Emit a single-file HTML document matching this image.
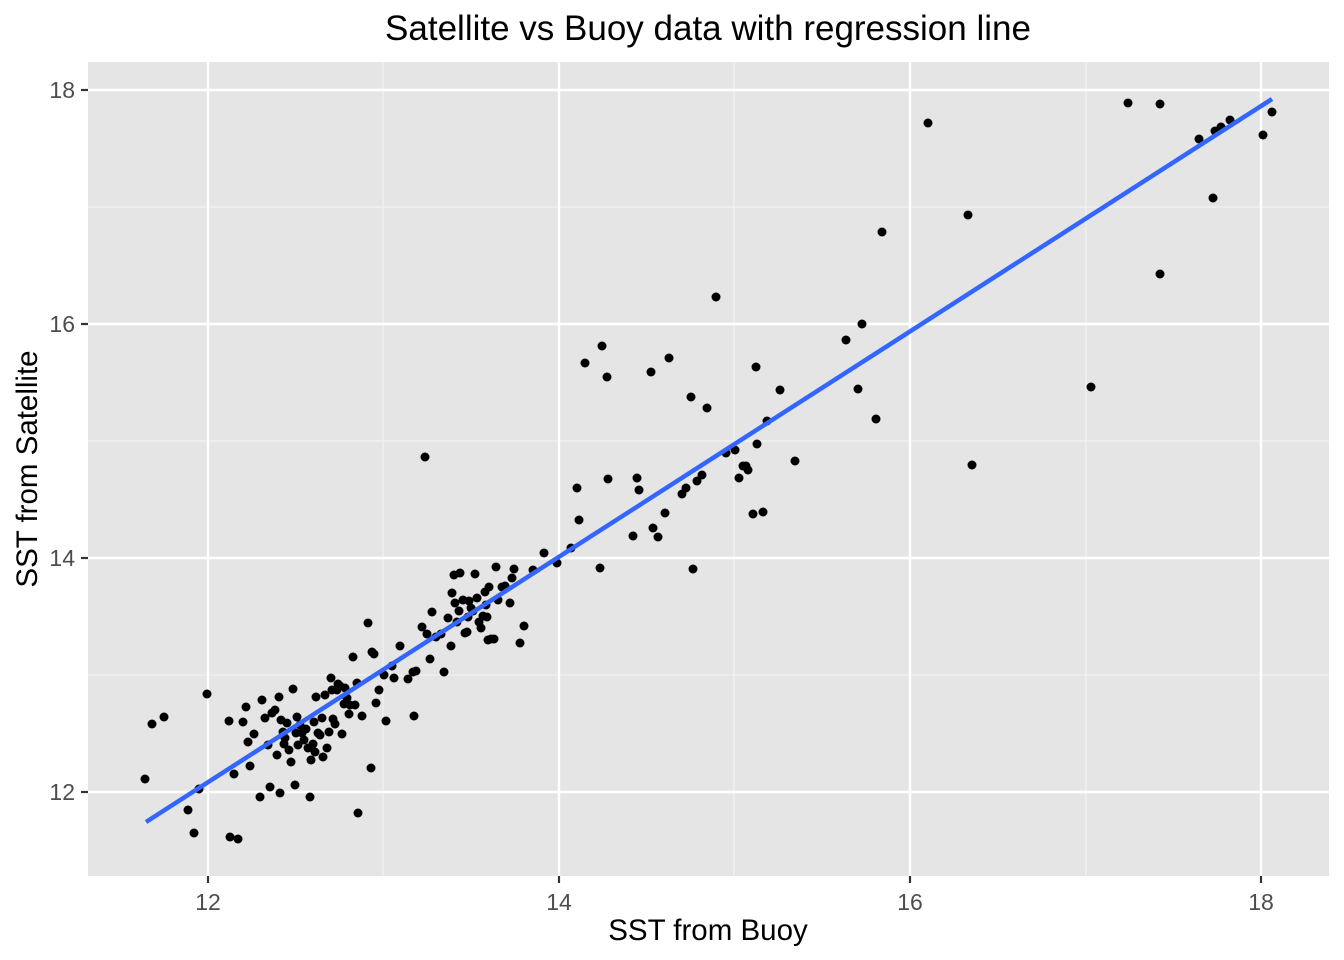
<!DOCTYPE html>
<html><head><meta charset="utf-8"><style>
html,body{margin:0;padding:0;background:#fff}
svg{display:block;font-family:"Liberation Sans",Arial,sans-serif}
</style></head><body>
<svg width="1344" height="960" viewBox="0 0 1344 960" xmlns="http://www.w3.org/2000/svg">
<rect x="88" y="62" width="1241" height="814" fill="#e5e5e5"/>
<g stroke="#f2f2f2" stroke-width="1.2">
<line x1="383" y1="62" x2="383" y2="876"/><line x1="734" y1="62" x2="734" y2="876"/><line x1="1086" y1="62" x2="1086" y2="876"/>
<line x1="88" y1="207" x2="1329" y2="207"/><line x1="88" y1="441" x2="1329" y2="441"/><line x1="88" y1="675" x2="1329" y2="675"/>
</g>
<g stroke="#fff" stroke-width="2.4">
<line x1="208" y1="62" x2="208" y2="876"/><line x1="559" y1="62" x2="559" y2="876"/><line x1="910" y1="62" x2="910" y2="876"/><line x1="1261" y1="62" x2="1261" y2="876"/>
<line x1="88" y1="90" x2="1329" y2="90"/><line x1="88" y1="324" x2="1329" y2="324"/><line x1="88" y1="558" x2="1329" y2="558"/><line x1="88" y1="792" x2="1329" y2="792"/>
</g>
<g stroke="#333" stroke-width="2.2">
<line x1="208" y1="876" x2="208" y2="883"/><line x1="559" y1="876" x2="559" y2="883"/><line x1="910" y1="876" x2="910" y2="883"/><line x1="1261" y1="876" x2="1261" y2="883"/>
<line x1="81" y1="90" x2="88" y2="90"/><line x1="81" y1="324" x2="88" y2="324"/><line x1="81" y1="558" x2="88" y2="558"/><line x1="81" y1="792" x2="88" y2="792"/>
</g>
<g fill="#4d4d4d" font-size="23" text-anchor="middle">
<text x="208" y="910">12</text><text x="559" y="910">14</text><text x="910" y="910">16</text><text x="1261" y="910">18</text>
</g>
<g fill="#4d4d4d" font-size="23" text-anchor="end">
<text x="75" y="98">18</text><text x="75" y="332">16</text><text x="75" y="566">14</text><text x="75" y="800">12</text>
</g>
<text x="708" y="940" font-size="29.5" text-anchor="middle" fill="#000">SST from Buoy</text>
<text transform="translate(37,469) rotate(-90)" font-size="29.5" text-anchor="middle" fill="#000">SST from Satellite</text>
<text x="708" y="40" font-size="35" text-anchor="middle" fill="#000">Satellite vs Buoy data with regression line</text>
<g fill="#000" id="pts"></g>
<line x1="146" y1="822" x2="1272" y2="99" stroke="#3366ff" stroke-width="4.5"/>
</svg>
<script>
var p=[[145,779],[152,724],[164,717],[188,810],[194,833],[199,789],[207,694],[229,721],[230,837],[238,839],[234,774],[243,722],[246,707],[248,742],[250,766],[254,734],[260,797],[262,700],[265,718],[268,745],[270,787],[272,713],[275,710],[277,755],[279,697],[280,793],[281,720],[283,732],[284,744],[285,738],[287,723],[289,750],[291,762],[293,689],[295,785],[296,733],[297,717],[298,745],[300,725],[302,733],[304,740],[306,729],[308,748],[310,797],[311,760],[313,744],[314,722],[315,752],[316,697],[318,733],[320,735],[322,718],[323,757],[325,695],[327,748],[329,732],[331,678],[332,690],[333,719],[335,724],[337,690],[338,684],[340,686],[342,734],[344,704],[345,688],[347,698],[349,714],[350,705],[353,657],[355,705],[357,683],[358,813],[362,716],[368,623],[371,768],[372,652],[374,654],[376,703],[379,690],[384,675],[386,721],[392,666],[394,678],[400,646],[408,679],[413,672],[414,716],[416,671],[422,627],[425,457],[427,634],[430,659],[432,612],[436,637],[441,634],[444,672],[448,618],[451,646],[452,593],[454,575],[455,603],[457,622],[459,611],[460,573],[463,600],[465,633],[467,632],[468,617],[469,601],[471,608],[473,611],[475,574],[477,598],[479,622],[481,628],[483,616],[485,592],[486,605],[487,617],[488,640],[489,587],[491,639],[494,639],[496,567],[498,600],[502,587],[505,586],[510,603],[512,578],[514,569],[520,643],[524,626],[533,570],[544,553],[557,563],[571,548],[577,488],[579,520],[585,363],[600,568],[602,346],[607,377],[608,479],[633,536],[637,478],[639,490],[651,372],[653,528],[658,537],[665,513],[669,358],[682,494],[686,488],[691,397],[693,569],[697,481],[702,475],[707,408],[716,297],[726,453],[735,450],[739,478],[743,466],[746,466],[748,470],[753,514],[756,367],[757,444],[763,512],[767,421],[780,390],[795,461],[846,340],[858,389],[862,324],[876,419],[882,232],[928,123],[968,215],[972,465],[1091,387],[1128,103],[1160,104],[1160,274],[1199,139],[1213,198],[1215,131],[1221,127],[1230,120],[1263,135],[1272,112]];
var g=document.getElementById('pts'),s='';
p.forEach(function(a){s+='<circle cx="'+a[0]+'" cy="'+a[1]+'" r="4.5"/>';});
g.innerHTML=s;
</script>
</body></html>
